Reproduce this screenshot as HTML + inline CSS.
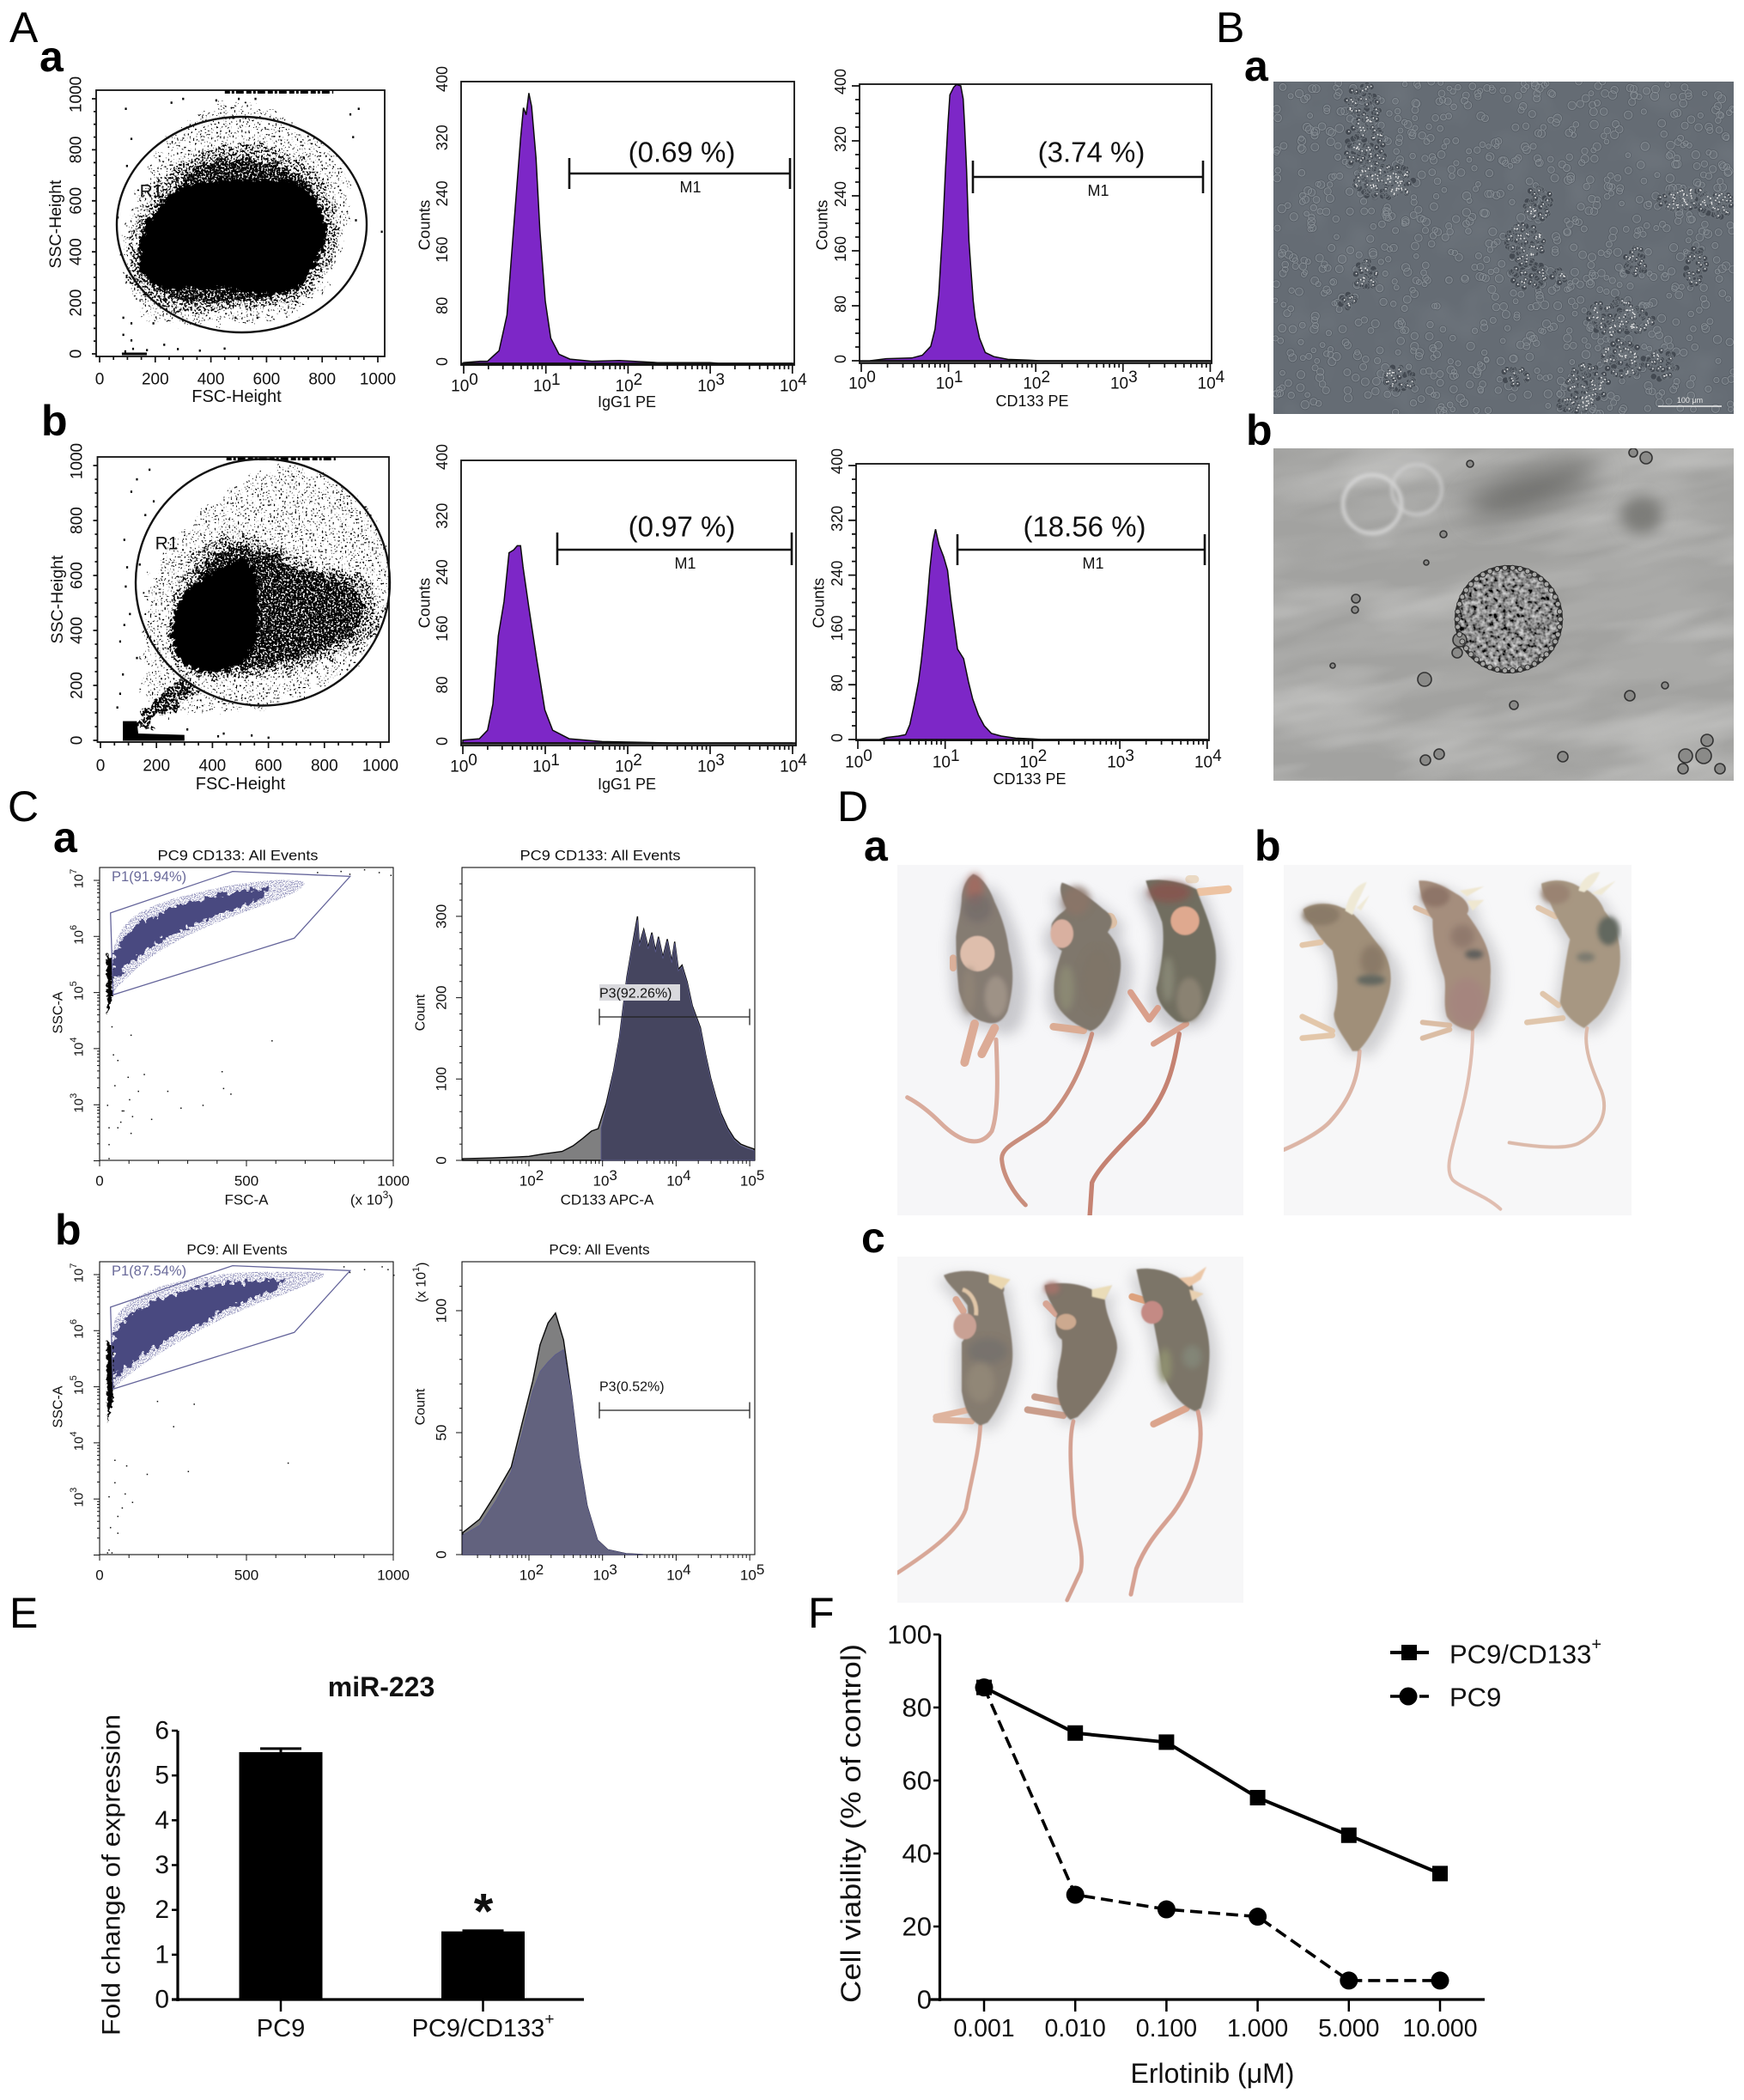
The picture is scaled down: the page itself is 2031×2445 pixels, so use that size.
<!DOCTYPE html>
<html lang="en">
<head>
<meta charset="utf-8">
<title>CD133 PC9 multi-panel figure</title>
<style>
html,body{margin:0;padding:0;background:#fff}
svg{display:block}
text{font-family:"Liberation Sans",Arial,sans-serif;dominant-baseline:central;fill:#111}
text.letter{dominant-baseline:alphabetic;font-size:50px;fill:#000}
text.sub{dominant-baseline:alphabetic;font-size:50px;font-weight:bold;fill:#000}
</style>
</head>
<body>
<svg id="fig" xmlns="http://www.w3.org/2000/svg" width="2031" height="2445" viewBox="0 0 2031 2445">
<defs>
  <filter id="stipDense" x="-.1" y="-.1" width="1.2" height="1.2"><feTurbulence type="fractalNoise" baseFrequency=".09" numOctaves="2" seed="21" result="w"/><feDisplacementMap in="SourceGraphic" in2="w" scale="26" xChannelSelector="R" yChannelSelector="G" result="s"/><feTurbulence type="fractalNoise" baseFrequency=".42" numOctaves="1" seed="3" result="n"/><feColorMatrix in="n" type="matrix" values="0 0 0 0 0 0 0 0 0 0 0 0 0 0 0 14 0 0 0 -5.9" result="m"/><feComposite in="m" in2="s" operator="in"/></filter>
  <filter id="stipMid" x="-.1" y="-.1" width="1.2" height="1.2"><feTurbulence type="fractalNoise" baseFrequency=".09" numOctaves="2" seed="22" result="w"/><feDisplacementMap in="SourceGraphic" in2="w" scale="30" xChannelSelector="R" yChannelSelector="G" result="s"/><feTurbulence type="fractalNoise" baseFrequency=".45" numOctaves="1" seed="8" result="n"/><feColorMatrix in="n" type="matrix" values="0 0 0 0 0 0 0 0 0 0 0 0 0 0 0 14 0 0 0 -7.3" result="m"/><feComposite in="m" in2="s" operator="in"/></filter>
  <filter id="stipSparse" x="-.1" y="-.1" width="1.2" height="1.2"><feTurbulence type="fractalNoise" baseFrequency=".07" numOctaves="2" seed="23" result="w"/><feDisplacementMap in="SourceGraphic" in2="w" scale="34" xChannelSelector="R" yChannelSelector="G" result="s"/><feTurbulence type="fractalNoise" baseFrequency=".48" numOctaves="1" seed="14" result="n"/><feColorMatrix in="n" type="matrix" values="0 0 0 0 0 0 0 0 0 0 0 0 0 0 0 14 0 0 0 -8.6" result="m"/><feComposite in="m" in2="s" operator="in"/></filter>
  <filter id="stipNavy" x="-.05" y="-.05" width="1.1" height="1.1"><feTurbulence type="fractalNoise" baseFrequency=".8" numOctaves="1" seed="5" result="n"/><feColorMatrix in="n" type="matrix" values="0 0 0 0 .29 0 0 0 0 .29 0 0 0 0 .5 14 0 0 0 -7.0" result="m"/><feComposite in="m" in2="SourceGraphic" operator="in"/></filter>
  <filter id="rough" x="-.1" y="-.1" width="1.2" height="1.2"><feTurbulence type="fractalNoise" baseFrequency=".16" numOctaves="2" seed="2" result="n"/><feDisplacementMap in="SourceGraphic" in2="n" scale="16" xChannelSelector="R" yChannelSelector="G"/></filter>
  <filter id="roughFine" x="-.3" y="-.1" width="1.6" height="1.2"><feTurbulence type="fractalNoise" baseFrequency=".3" numOctaves="2" seed="9" result="n"/><feDisplacementMap in="SourceGraphic" in2="n" scale="7" xChannelSelector="R" yChannelSelector="G"/></filter>
  <filter id="blur1"><feGaussianBlur stdDeviation="1"/></filter>
  <filter id="blur2" x="-.3" y="-.3" width="1.6" height="1.6"><feGaussianBlur stdDeviation="2"/></filter>
  <filter id="blur8" x="-.8" y="-.8" width="2.6" height="2.6"><feGaussianBlur stdDeviation="8"/></filter>
  <filter id="blur12" x="-.8" y="-.8" width="2.6" height="2.6"><feGaussianBlur stdDeviation="12"/></filter>
  <filter id="blur16" x="-.8" y="-1.5" width="2.6" height="4"><feGaussianBlur stdDeviation="16"/></filter>
  <filter id="blur24" x="-.4" y="-.2" width="1.8" height="1.4"><feGaussianBlur stdDeviation="22"/></filter>
  <filter id="bandNoise" x="0" y="0" width="1" height="1"><feTurbulence type="fractalNoise" baseFrequency="0.006 0.024" numOctaves="3" seed="11"/><feColorMatrix type="matrix" values="0 0 0 0 .45 0 0 0 0 .45 0 0 0 0 .44 3.4 0 0 0 -1.35"/></filter>
  <filter id="bandLight" x="0" y="0" width="1" height="1"><feTurbulence type="fractalNoise" baseFrequency="0.005 0.02" numOctaves="3" seed="31"/><feColorMatrix type="matrix" values="0 0 0 0 .85 0 0 0 0 .85 0 0 0 0 .84 3 0 0 0 -1.4"/></filter>
  <filter id="fogNoise" x="0" y="0" width="1" height="1"><feTurbulence type="fractalNoise" baseFrequency="0.02" numOctaves="2" seed="4"/><feColorMatrix type="matrix" values="0 0 0 0 .28 0 0 0 0 .31 0 0 0 0 .34 2 0 0 0 -.95"/></filter>
  <filter id="mottle" x="0" y="0" width="1" height="1"><feTurbulence type="fractalNoise" baseFrequency=".2" numOctaves="2" seed="6" result="n"/><feColorMatrix in="n" type="matrix" values="1.2 0 0 0 -.33 1.2 0 0 0 -.33 1.2 0 0 0 -.33 0 0 0 0 1" result="m"/><feComposite in="m" in2="SourceGraphic" operator="in"/></filter>
  <clipPath id="clipBa"><rect x="1483" y="95" width="536" height="387"/></clipPath>
  <clipPath id="clipBb"><rect x="1483" y="522" width="536" height="387"/></clipPath>
  <clipPath id="clipDa"><rect x="0" y="0" width="1209" height="1224"/></clipPath>
  <clipPath id="clipDb"><rect x="0" y="0" width="1215" height="1224"/></clipPath>
  <clipPath id="clipDc"><rect x="0" y="0" width="1209" height="1209"/></clipPath>
  <path id="mouseA1" d="M265 32C295 40 325 85 340 130C370 190 385 250 390 300C410 370 405 440 385 510C370 545 345 560 310 550C260 540 230 500 215 440C210 390 205 330 205 250C210 200 225 160 225 110C230 70 245 45 265 32Z"/>
  <path id="mouseA2" d="M575 62C620 75 680 120 720 155C750 175 760 200 735 235C775 280 790 330 775 400C755 500 715 570 675 580C620 560 565 520 550 470C540 400 560 350 575 300C545 280 530 250 540 205C560 170 590 160 590 150C570 110 565 80 575 62Z"/>
  <path id="mouseA3" d="M868 55C920 45 1000 60 1045 85C1060 130 1090 190 1105 260C1125 330 1105 420 1080 480C1050 545 1010 560 975 545C930 510 905 470 905 430C925 350 935 260 925 200C900 130 880 100 868 55Z"/>
  <path id="mouseB1" d="M68 155C100 130 170 130 205 150C250 160 290 230 340 290C375 340 385 400 360 470C330 560 290 620 260 650L240 650C210 600 175 560 175 520C195 440 190 380 170 300C130 260 110 230 100 210C80 190 70 170 68 155Z"/>
  <path id="mouseB2" d="M472 55C520 50 570 80 610 105C650 130 650 160 640 170C690 240 730 300 722 390C725 470 690 550 660 580C620 570 590 560 570 530C555 480 570 430 560 390C530 300 520 260 520 190C490 150 475 100 472 55Z"/>
  <path id="mouseB3" d="M900 65C950 45 1000 55 1030 75C1080 90 1110 130 1120 160C1170 220 1185 300 1170 380C1150 450 1120 510 1090 535L1050 570C1010 550 980 520 965 480C975 400 985 330 1000 260C970 210 950 180 930 130C915 110 900 90 900 65Z"/>
  <path id="mouseC1" d="M162 65C210 45 280 45 320 65C370 80 380 110 370 125C390 230 410 310 400 380C385 460 350 540 315 580L290 590C250 570 235 530 225 470C225 400 225 340 225 300C250 270 250 230 245 170C210 120 175 100 162 65Z"/>
  <path id="mouseC2" d="M515 100C570 85 640 95 680 115C700 130 720 120 750 100L725 150C730 220 770 270 768 320C760 400 700 490 630 560L605 570C575 550 550 480 560 420C560 380 580 340 575 290C545 270 550 220 560 200C540 170 515 130 515 100Z"/>
  <path id="mouseC3" d="M835 45C880 35 950 50 985 75L1030 100L1040 140C1075 210 1095 290 1090 360C1085 430 1075 490 1060 530L1040 540C990 520 950 470 925 400C915 330 905 280 895 230C860 170 850 110 835 45Z"/>
</defs>

<rect width="2031" height="2445" fill="#fff"/>

<text class="letter" x="11" y="49">A</text>
<text class="letter" x="1416" y="49">B</text>
<text class="letter" x="9" y="956">C</text>
<text class="letter" x="975" y="956">D</text>
<text class="letter" x="11" y="1895">E</text>
<text class="letter" x="941" y="1895">F</text>
<text class="sub" x="46" y="83">a</text>
<text class="sub" x="48" y="507">b</text>
<text class="sub" x="1449" y="94">a</text>
<text class="sub" x="1451" y="518">b</text>
<text class="sub" x="62" y="992">a</text>
<text class="sub" x="64" y="1449">b</text>
<text class="sub" x="1006" y="1002">a</text>
<text class="sub" x="1461" y="1002">b</text>
<text class="sub" x="1003" y="1458">c</text>

<g id="panelA"></g>
<g id="panelC"></g>

<g>
  <ellipse cx="281.5" cy="261.5" rx="145.5" ry="125.5" fill="none" stroke="#111" stroke-width="2.4"/>
  <text x="176" y="223" font-size="21" text-anchor="middle">R1</text>
  <ellipse cx="306" cy="678" rx="148" ry="143.5" fill="none" stroke="#111" stroke-width="2.4"/>
  <text x="194" y="633" font-size="21" text-anchor="middle">R1</text>

  <text x="794" y="177" font-size="33" text-anchor="middle">(0.69 %)</text>
  <path d="M663 184V220M663 202H920M920 184V220" fill="none" stroke="#111" stroke-width="2.6"/>
  <text x="804" y="218" font-size="18" text-anchor="middle">M1</text>

  <text x="1271" y="177" font-size="33" text-anchor="middle">(3.74 %)</text>
  <path d="M1133 187V225M1133 206H1401M1401 187V225" fill="none" stroke="#111" stroke-width="2.6"/>
  <text x="1279" y="222" font-size="18" text-anchor="middle">M1</text>

  <text x="794" y="613" font-size="33" text-anchor="middle">(0.97 %)</text>
  <path d="M649 620V658M649 640H922M922 620V658" fill="none" stroke="#111" stroke-width="2.6"/>
  <text x="798" y="656" font-size="18" text-anchor="middle">M1</text>

  <text x="1263" y="613" font-size="33" text-anchor="middle">(18.56 %)</text>
  <path d="M1115 622V658M1115 640H1403M1403 622V658" fill="none" stroke="#111" stroke-width="2.6"/>
  <text x="1273" y="656" font-size="18" text-anchor="middle">M1</text>
</g>

<g font-size="17">
  <text x="277" y="996" font-size="17" text-anchor="middle" textLength="187" lengthAdjust="spacingAndGlyphs">PC9  CD133: All Events</text>
  <text x="699" y="996" font-size="17" text-anchor="middle" textLength="187" lengthAdjust="spacingAndGlyphs">PC9  CD133: All Events</text>
  <text x="276" y="1455" font-size="17" text-anchor="middle">PC9: All Events</text>
  <text x="698" y="1455" font-size="17" text-anchor="middle">PC9: All Events</text>
  <text x="287" y="1397" font-size="17" text-anchor="middle">FSC-A</text>
  <text x="458" y="1397" font-size="17" text-anchor="end">(x 10<tspan dy="-6" font-size="12">3</tspan><tspan dy="6">)</tspan></text>
  <text x="707" y="1397" font-size="17" text-anchor="middle">CD133 APC-A</text>
  <text transform="translate(68,1179) rotate(-90)" font-size="16" text-anchor="middle">SSC-A</text>
  <text transform="translate(68,1638) rotate(-90)" font-size="16" text-anchor="middle">SSC-A</text>
  <text transform="translate(490,1179) rotate(-90)" font-size="16" text-anchor="middle">Count</text>
  <text transform="translate(490,1638) rotate(-90)" font-size="16" text-anchor="middle">Count</text>
  <text transform="translate(491,1493) rotate(-90)" font-size="16" text-anchor="middle">(x 10<tspan dy="-6" font-size="11">1</tspan><tspan dy="6">)</tspan></text>
</g>

<g id="panelB">
  <g clip-path="url(#clipBa)">
    <rect x="1483" y="95" width="536" height="387" fill="#656c74"/>
    <rect x="1483" y="95" width="536" height="387" filter="url(#fogNoise)" opacity=".22"/>
    <g id="cellsA"></g>
    <line x1="1931" x2="2005" y1="473" y2="473" stroke="#eee" stroke-width="1.6"/>
    <text x="1968" y="466" font-size="9" text-anchor="middle" style="fill:#e6e6e6">100 μm</text>
  </g>
  <g clip-path="url(#clipBb)">
    <rect x="1483" y="522" width="536" height="387" fill="#a2a2a0"/>
    <rect x="1360" y="440" width="780" height="560" filter="url(#bandNoise)" transform="rotate(-10 1750 715)" opacity=".5"/>
    <rect x="1360" y="440" width="780" height="560" filter="url(#bandLight)" transform="rotate(-10 1750 715)" opacity=".3"/>
    <ellipse cx="1785" cy="570" rx="80" ry="22" transform="rotate(-18 1785 570)" fill="#6f6f6d" filter="url(#blur16)"/>
    <ellipse cx="1912" cy="600" rx="24" ry="22" fill="#7d7d79" filter="url(#blur8)"/>
    <circle cx="1598" cy="587" r="34" fill="none" stroke="#dcdcdc" stroke-width="3.5" filter="url(#blur2)"/>
    <circle cx="1650" cy="570" r="29" fill="none" stroke="#d0d0d0" stroke-width="3" filter="url(#blur2)"/>
    <circle cx="1757" cy="721" r="62" fill="#333" stroke="#2a2a2a" stroke-width="2"/>
    <circle cx="1757" cy="721" r="59" fill="#000" filter="url(#mottle)"/>
    <g id="cellsB"></g>
  </g>
</g>

<g>
  <g transform="translate(1045,1007) scale(.33333)" clip-path="url(#clipDa)">
    <rect width="1209" height="1224" fill="#f6f6f8"/>
    <g filter="url(#blur24)" fill="#a4a4aa" opacity=".55"><use href="#mouseA1" x="-20" y="20"/><use href="#mouseA1" x="50" y="40"/><use href="#mouseA2" x="-25" y="30"/><use href="#mouseA2" x="40" y="25"/><use href="#mouseA3" x="-30" y="30"/><use href="#mouseA3" x="30" y="20"/></g>
    <g fill="none" stroke-linecap="round" filter="url(#blur1)">
      <path d="M345 610C350 720 355 860 330 930C290 990 220 970 150 900C110 860 70 830 35 812" stroke="#d9ab9c" stroke-width="15"/>
      <path d="M680 590C650 700 600 810 520 895C440 960 360 980 365 1030C370 1090 410 1150 448 1188" stroke="#c98e7d" stroke-width="15"/>
      <path d="M985 590C965 700 950 790 860 900C780 980 700 1060 680 1110L672 1230" stroke="#c58272" stroke-width="16"/>
      <path d="M270 555L235 690M340 570L295 660" stroke="#dcab96" stroke-width="30"/>
      <path d="M650 578L545 565" stroke="#dbac94" stroke-width="26"/>
      <path d="M1010 555L895 625" stroke="#d89f8b" stroke-width="20"/>
      <path d="M910 500L880 540L815 445" stroke="#d99f8b" stroke-width="22" stroke-linejoin="round"/>
      <path d="M1055 95L1155 85" stroke="#edc3a2" stroke-width="28"/>
      <path d="M1020 50L1040 50" stroke="#ead9c4" stroke-width="28"/>
      <path d="M740 190L745 200" stroke="#ddc0a6" stroke-width="46"/>
      <path d="M195 325L195 360" stroke="#dbb09a" stroke-width="24"/>
    </g>
    <g filter="url(#blur2)">
      <use href="#mouseA1" fill="#857b72"/>
      <ellipse cx="270" cy="85" rx="30" ry="55" fill="#a4695f" opacity=".85" filter="url(#blur12)"/>
      <ellipse cx="280" cy="150" rx="50" ry="50" fill="#726a69" opacity=".7" filter="url(#blur12)"/>
      <ellipse cx="280" cy="310" rx="60" ry="62" fill="#deBeac"/>
      <ellipse cx="345" cy="460" rx="40" ry="72" fill="#9e9286" filter="url(#blur8)"/>
      <ellipse cx="250" cy="440" rx="22" ry="80" fill="#8f8374" filter="url(#blur12)"/>
      <use href="#mouseA2" fill="#7f776c"/>
      <ellipse cx="625" cy="125" rx="48" ry="50" fill="#8b7467" opacity=".9" filter="url(#blur12)"/>
      <ellipse cx="575" cy="240" rx="40" ry="50" fill="#d9b0a0"/>
      <ellipse cx="590" cy="430" rx="28" ry="80" fill="#8d8b74" opacity=".9" filter="url(#blur12)"/>
      <ellipse cx="700" cy="400" rx="60" ry="110" fill="#7f7568" opacity=".8" filter="url(#blur12)"/>
      <use href="#mouseA3" fill="#716e60"/>
      <ellipse cx="950" cy="95" rx="75" ry="36" fill="#87574f" opacity=".9" filter="url(#blur12)"/>
      <ellipse cx="1005" cy="195" rx="50" ry="50" fill="#dfa98f"/>
      <ellipse cx="945" cy="400" rx="22" ry="80" fill="#8d8d7a" opacity=".8" filter="url(#blur12)"/>
      <ellipse cx="1020" cy="470" rx="45" ry="76" fill="#8a8272" filter="url(#blur8)"/>
    </g>
  </g>
  <g transform="translate(1495,1007) scale(.33333)" clip-path="url(#clipDb)">
    <rect width="1215" height="1224" fill="#f7f7f8"/>
    <g filter="url(#blur24)" fill="#a8a8ac" opacity=".5"><use href="#mouseB1" x="40" y="20"/><use href="#mouseB2" x="35" y="20"/><use href="#mouseB3" x="30" y="20"/><use href="#mouseB1" x="-15" y="15"/><use href="#mouseB2" x="-15" y="15"/><use href="#mouseB3" x="-15" y="15"/></g>
    <g fill="none" stroke-linecap="round" filter="url(#blur1)">
      <path d="M265 650C260 720 250 800 160 898C130 930 60 970 0 995" stroke="#dcb5a6" stroke-width="14"/>
      <path d="M660 580C660 680 640 800 610 900C590 990 560 1060 590 1100C620 1130 700 1150 757 1202" stroke="#e0bdb0" stroke-width="12"/>
      <path d="M1060 570C1045 640 1080 720 1110 790C1135 860 1110 930 1029 973C980 995 880 985 788 970" stroke="#dcbaaa" stroke-width="12"/>
      <path d="M170 580L65 530M170 595L65 605M130 270L65 280" stroke="#e3c7aa" stroke-width="20"/>
      <path d="M580 560L485 550M580 575L485 605M520 175L460 150" stroke="#dbbda4" stroke-width="18"/>
      <path d="M975 535L850 550M960 490L905 450M950 180L890 150" stroke="#e0c6ac" stroke-width="20"/>
    </g>
    <g filter="url(#blur2)">
      <use href="#mouseB1" fill="#a08f79"/>
      <ellipse cx="130" cy="175" rx="65" ry="36" fill="#8a7a68" filter="url(#blur8)"/>
      <ellipse cx="310" cy="335" rx="42" ry="55" fill="#857464" opacity=".8" filter="url(#blur12)"/>
      <ellipse cx="305" cy="402" rx="50" ry="18" fill="#636760" filter="url(#blur8)"/>
      <path d="M215 160C225 110 250 70 290 60C270 110 250 140 240 175ZM255 150L300 105L270 160Z" fill="#efe9d5"/>
      <use href="#mouseB2" fill="#a58e7d"/>
      <ellipse cx="640" cy="480" rx="65" ry="85" fill="#a5857f" opacity=".9" filter="url(#blur12)"/>
      <ellipse cx="530" cy="110" rx="50" ry="36" fill="#8e7468" filter="url(#blur8)"/>
      <ellipse cx="625" cy="250" rx="42" ry="40" fill="#8b7569" opacity=".8" filter="url(#blur12)"/>
      <ellipse cx="665" cy="312" rx="32" ry="16" fill="#5f5f5b" filter="url(#blur8)"/>
      <path d="M615 90L700 75L640 110ZM640 125L700 122L660 160Z" fill="#efe7d0"/>
      <use href="#mouseB3" fill="#a79782"/>
      <ellipse cx="950" cy="100" rx="50" ry="36" fill="#9a8372" filter="url(#blur8)"/>
      <ellipse cx="1135" cy="230" rx="38" ry="50" fill="#62675f" filter="url(#blur8)"/>
      <ellipse cx="1055" cy="322" rx="32" ry="16" fill="#7c7a70" filter="url(#blur8)"/>
      <path d="M1030 90C1040 50 1070 25 1105 25C1090 60 1070 80 1050 95ZM1075 100L1160 55L1110 105Z" fill="#efe9d5"/>
    </g>
  </g>
  <g transform="translate(1045,1463) scale(.33333)" clip-path="url(#clipDc)">
    <rect width="1209" height="1209" fill="#f7f7f8"/>
    <g filter="url(#blur24)" fill="#aaaaae" opacity=".5"><use href="#mouseC1" x="25" y="20"/><use href="#mouseC2" x="25" y="20"/><use href="#mouseC3" x="30" y="20"/><use href="#mouseC1" x="-20" y="15"/><use href="#mouseC2" x="-20" y="15"/><use href="#mouseC3" x="-20" y="15"/></g>
    <g fill="none" stroke-linecap="round" filter="url(#blur1)">
      <path d="M290 590C285 690 255 790 240 880C215 960 100 1040 0 1105" stroke="#d8a797" stroke-width="14"/>
      <path d="M615 575C595 650 610 800 618 900C625 960 655 1040 640 1100L593 1200" stroke="#d4a192" stroke-width="14"/>
      <path d="M1050 540C1075 640 1050 780 960 900C920 950 870 1000 835 1090L816 1180" stroke="#d6a192" stroke-width="15"/>
      <path d="M250 535L135 560M260 575L135 570" stroke="#dfb49e" stroke-width="22"/>
      <path d="M585 510L480 490M580 555L455 535" stroke="#c99d8b" stroke-width="24"/>
      <path d="M1010 530L895 585" stroke="#dba48c" stroke-width="24"/>
      <path d="M205 150L230 190" stroke="#d9a894" stroke-width="24"/>
      <path d="M520 165L555 200" stroke="#d6a594" stroke-width="24"/>
      <path d="M820 140L870 155" stroke="#dda27e" stroke-width="24"/>
    </g>
    <g filter="url(#blur2)">
      <use href="#mouseC1" fill="#857b6f"/>
      <ellipse cx="315" cy="330" rx="70" ry="45" fill="#74716d" opacity=".8" filter="url(#blur12)"/>
      <ellipse cx="290" cy="440" rx="50" ry="70" fill="#948a79" opacity=".8" filter="url(#blur12)"/>
      <ellipse cx="236" cy="243" rx="40" ry="46" fill="#c9a194"/>
      <path d="M320 60L395 80L365 115L320 90Z" fill="#ead7b0"/>
      <path d="M228 115C260 125 280 165 275 205" fill="none" stroke="#e0c6a8" stroke-width="14"/>
      <use href="#mouseC2" fill="#7f7468"/>
      <ellipse cx="590" cy="228" rx="35" ry="28" fill="#cca98f"/>
      <path d="M680 115L750 100L725 150L680 140Z" fill="#eadcb8"/>
      <ellipse cx="540" cy="110" rx="28" ry="22" fill="#a4736a" opacity=".9" filter="url(#blur8)"/>
      <use href="#mouseC3" fill="#7c7568"/>
      <ellipse cx="890" cy="195" rx="38" ry="40" fill="#c48a84"/>
      <ellipse cx="935" cy="380" rx="22" ry="60" fill="#8f9070" filter="url(#blur12)"/>
      <ellipse cx="1030" cy="350" rx="34" ry="40" fill="#858a7c" opacity=".8" filter="url(#blur12)"/>
      <path d="M985 75L1030 70L1080 35L1060 80L1020 105Z" fill="#ecc8a8"/>
      <path d="M1020 115L1070 130L1030 155Z" fill="#e8d0b0"/>
    </g>
  </g>
</g>

<g id="panelE"></g>
<g id="panelF"></g>
</svg>

<script>
// ---------- Panel A histograms: decade position (log10) and counts ----------
const iggTopDecade=[0,.2,.29,.43,.527,.593,.66,.693,.727,.76,.793,.827,.88,.927,.993,1.06,1.16,1.293,1.56,1.893,2.36,3.0,3.1,4];
const iggTopCounts=[1,3,3,18,69,171,273,322,365,355,386,367,294,191,89,36,13,6,3,4,1,1,0,0];
const cdTopDecade=[.1,.286,.58,.7,.796,.845,.888,.911,.934,.967,.993,1.016,1.059,1.092,1.141,1.168,1.184,1.207,1.234,1.257,1.283,1.306,1.355,1.421,1.52,1.68,1.91,2.05,4];
const cdTopCounts=[0,3,4,8,21,46,96,146,192,281,344,387,398,402,400,381,344,279,175,133,87,62,33,12,6,2,1,0,0];
const iggBotDecade=[0,.2,.3,.365,.43,.5,.56,.617,.66,.7,.73,.8,.895,.995,1.09,1.29,1.69,2.55,4];
const iggBotCounts=[4,6,18,55,152,201,270,274,280,280,250,193,120,47,18,6,2,0,0];
const cdBotDecade=[.25,.33,.465,.547,.596,.645,.694,.727,.76,.792,.825,.858,.89,.93,.982,1.028,1.064,1.103,1.142,1.211,1.267,1.316,1.381,1.447,1.529,1.643,1.807,2.0,2.1,4];
const cdBotCounts=[0,3,5,7,22,51,84,115,155,197,249,288,307,284,267,247,205,168,132,118,84,59,36,20,9,5,2,1,0,0];
const histCountTicks=[0,80,160,240,320,400];
const histDecadeTicks=[0,1,2,3,4];
const fscTicks=[0,200,400,600,800,1000];
const sscTicks=[0,200,400,600,800,1000];

// ---------- Panel A scatter density regions and individual events ----------
const aTopCoreFsc=[134,173,252,311,429,587,744,803,823,764,705,587,429,252,154];
const aTopCoreSsc=[400,535,624,669,680,686,669,546,456,322,243,221,266,243,288];
const aTopMidFsc=[94,154,291,429,665,823,862,823,705,528,232,114];
const aTopMidSsc=[378,580,759,826,804,692,490,322,198,176,154,266];
const aTopHaloFsc=[232,331,429,520,665,780,902,882,700,429,114,75];
const aTopHaloSsc=[829,905,985,990,938,830,714,378,130,120,120,490];
const aTopEventFsc=[94,931,114,901,911,98,65,921,1014,85,114,85,114,360,449,232,193,281,567,488,419,500,560,300,258,120,170,92];
const aTopEventSsc=[961,961,843,939,850,737,535,524,479,142,120,75,53,13,21,36,120,19,142,142,994,1000,1000,1000,985,20,15,10];
const bBotCoreFsc=[247,266,325,423,521,560,560,560,521,423,305];
const bBotCoreSsc=[359,484,568,630,672,609,464,359,286,245,255];
const bBotMidFsc=[227,266,384,560,736,951,1010,971,775,560,344];
const bBotMidSsc=[307,568,734,745,630,609,464,359,276,224,224];
const bBotHaloFsc=[149,188,579,814,1020,1020,736,423,168];
const bBotHaloSsc=[359,672,1015,984,776,359,151,99,99];
const bBotLowFsc=[80,80,130,135,300,300,135];
const bBotLowSsc=[0,70,70,25,20,5,0];
const bBotBandFsc=[100,300,345,140];
const bBotBandSsc=[60,235,190,30];
const bBotEventFsc=[175,110,85,90,105,130,80,70,60,310,420,440,540,600,95,140,160,190,130,70,85];
const bBotEventSsc=[985,905,730,560,460,300,240,170,120,40,15,25,18,10,630,640,820,870,950,360,420];

// ---------- Panel C histograms: log10 signal and count ----------
const cAllLog=[1.1,1.5,1.8,2.0,2.2,2.45,2.6,2.73,2.85,2.94,3.05,3.15,3.23,3.33,3.4,3.475,3.5,3.56,3.62,3.67,3.72,3.76,3.82,3.88,3.94,3.98,4.03,4.08,4.15,4.22,4.33,4.4,4.47,4.54,4.61,4.7,4.79,4.88,4.96,5.06];
const cAllCount=[2,3,4,5,8,11,18,27,36,39,70,110,151,225,262,300,265,284,262,280,258,275,250,272,245,269,235,240,219,190,163,130,101,78,58,40,27,20,17,14];
const cGatedLog=[2.98,3.05,3.15,3.23,3.33,3.4,3.475,3.5,3.56,3.62,3.67,3.72,3.76,3.82,3.88,3.94,3.98,4.03,4.08,4.15,4.22,4.33,4.4,4.47,4.54,4.61,4.7,4.79,4.88,4.96,5.06];
const cGatedCount=[40,66,108,149,223,260,296,263,282,260,278,256,273,248,270,243,267,233,238,217,188,161,128,99,76,56,38,25,18,15,12];
const dAllLog=[1.1,1.33,1.55,1.76,1.9,2.05,2.15,2.26,2.36,2.47,2.58,2.68,2.79,2.93,3.07,3.32,3.55];
const dAllCount=[9,14.5,25,36,53,71,86,95,99,88,65,40,20,6,2,.4,0];
const dGatedLog=[1.1,1.33,1.55,1.76,1.9,2.05,2.15,2.26,2.36,2.47,2.58,2.68,2.79,2.93,3.07,3.32,3.55];
const dGatedCount=[8,12,22,34,49,67,75,79,82,84,65,40,20,6,2,.4,0];
const cCountTicksA=[0,100,200,300];
const cCountTicksB=[0,50,100];
const cLogTicks=[2,3,4,5];
const cFscTicks=[0,500,1000];
const cSscTicks=[3,4,5,6,7];

// ---------- Panel C scatter regions and events ----------
const caBandFsc=[41,103,192,316,423,547,590,547,423,281,156,67,41];
const caBandSsc=[5.64,6.13,6.40,6.62,6.76,6.85,6.9,6.62,6.44,6.13,5.77,5.37,5.14];
const caHaloFsc=[35,90,200,340,480,620,720,640,470,300,160,60,40];
const caHaloSsc=[5.7,6.3,6.6,6.8,6.95,7.02,6.98,6.7,6.4,6.03,5.6,5.1,4.95];
const cbBandFsc=[41,85,192,334,458,600,640,600,458,334,192,85,41];
const cbBandSsc=[5.83,6.24,6.55,6.78,6.87,6.91,6.92,6.73,6.46,6.10,5.74,5.34,5.07];
const cbHaloFsc=[35,90,200,340,480,640,800,680,470,300,160,60,40];
const cbHaloSsc=[6.1,6.5,6.8,6.95,7.05,7.05,7.05,6.75,6.35,5.9,5.45,5.05,4.85];
const caBlackFsc=[24,44,42,26];
const caBlackSsc=[5.7,5.6,4.9,4.6];
const cbBlackFsc=[24,46,46,26];
const cbBlackSsc=[5.85,5.7,4.75,4.35];
const caEventFsc=[585,415,420,445,150,230,275,350,80,110,40,60,50,95,130,175,30,30,70,105,740,820,850,950,990,900,30,25,45,105,60,75,100];
const caEventSsc=[4.15,3.6,3.3,3.2,3.55,3.25,2.95,3.0,2.9,2.8,4.4,3.8,3.35,3.5,3.25,2.75,2.3,2.6,2.7,2.5,7.15,7.17,7.12,7.15,7.1,7.2,2.05,3.0,3.9,4.25,2.6,2.9,3.1];
const cbEventFsc=[195,320,250,640,300,160,50,90,110,30,60,35,75,85,60,30,850,900,960,980,1000,830,40,25,50];
const cbEventSsc=[4.75,4.7,4.3,3.65,3.5,3.45,3.7,3.6,2.95,3.05,2.7,2.5,2.85,3.1,2.4,2.1,7.05,7.1,7.15,7.1,7.0,7.15,2.05,2.05,3.3];
const cGatePolyFsc=[37,453,853,663,46];
const cGatePolySsc=[6.42,7.16,7.07,5.97,4.96];

// ---------- Panel E ----------
const expressionCategories=['PC9','PC9/CD133'];
const expressionValues=[5.52,1.52];
const expressionErrors=[.08,.015];
const expressionTicks=[0,1,2,3,4,5,6];

// ---------- Panel F ----------
const doseLabels=['0.001','0.010','0.100','1.000','5.000','10.000'];
const viabilityCd133=[85.5,73,70.5,55.3,45,34.5];
const viabilityPc9=[85.5,28.7,24.7,22.7,5.2,5.2];
const viabilityTicks=[0,20,40,60,80,100];

const NS='http://www.w3.org/2000/svg';
function make(parent,tag,props,content){
  const el=document.createElementNS(NS,tag);
  for(const k in props)el.setAttribute(k,props[k]);
  if(content!==undefined)el.textContent=content;
  parent.appendChild(el);
  return el;
}
function polyD(xs,ys,X,Y){return xs.map((v,i)=>(i?'L':'M')+X(v).toFixed(1)+' '+Y(ys[i]).toFixed(1)).join('')+'Z';}
function smoothD(xs,ys,X,Y){
  const n=xs.length;
  const px=xs.map(X), py=ys.map(Y);
  let d='M'+((px[n-1]+px[0])/2).toFixed(1)+' '+((py[n-1]+py[0])/2).toFixed(1);
  for(let i=0;i<n;i++){
    const j=(i+1)%n;
    d+='Q'+px[i].toFixed(1)+' '+py[i].toFixed(1)+' '+((px[i]+px[j])/2).toFixed(1)+' '+((py[i]+py[j])/2).toFixed(1);
  }
  return d+'Z';
}
function powerLabel(parent,x,y,exp,size){
  const t=make(parent,'text',{x:x,y:y,'font-size':size,'text-anchor':'middle'});
  t.appendChild(document.createTextNode('10'));
  make(t,'tspan',{dy:-size*.42},exp);
  return t;
}

function drawHist(parent,key,xs,cs,c){
  const X=d=>c.x0+d*c.dec, Y=n=>c.y0-n*(c.y0-c.y400)/400;
  const g=make(parent,'g',{});
  
  
  const frame=make(g,'rect',{x:c.l,y:c.t,width:c.r-c.l,height:c.b-c.t,fill:'#fff',stroke:'#111','stroke-width':1.8});
  
  
  let d='M'+X(xs[0]).toFixed(1)+' '+Y(0).toFixed(1);
  xs.forEach((v,i)=>{d+='L'+Math.min(X(v),c.r).toFixed(1)+' '+Math.max(Y(cs[i]),c.t).toFixed(1);});
  d+='L'+Math.min(X(xs[xs.length-1]),c.r).toFixed(1)+' '+Y(0).toFixed(1)+'Z';
  const area=make(g,'path',{d:d,fill:'#7d27c7',stroke:'#0d0d0d','stroke-width':1.5,'stroke-linejoin':'miter'});
  
  
  const base=make(g,'line',{x1:c.l,x2:c.r,y1:Y(0)+.5,y2:Y(0)+.5,stroke:'#111','stroke-width':2.6});
  
  
  let tick='';
  histDecadeTicks.forEach(dec=>{
    tick+='M'+X(dec)+' '+c.b+'v10';
    if(dec<4)for(let m=2;m<10;m++)tick+='M'+(X(dec)+Math.log10(m)*c.dec).toFixed(1)+' '+c.b+'v5';
  });
  const xt=make(g,'path',{d:tick,stroke:'#111','stroke-width':1.7,fill:'none'});
  
  
  histDecadeTicks.forEach(dec=>{
    const t=powerLabel(g,X(dec)+1,c.xl,dec,19);
    
    
  });
  if(c.yt){
    let yd='';
    for(let n=0;n<=400;n+=20)yd+='M'+c.l+' '+Y(n).toFixed(1)+'h'+(n%80?-5:-9);
    const yp=make(g,'path',{d:yd,stroke:'#111','stroke-width':1.8,fill:'none'});
    
    
  }
  histCountTicks.forEach(n=>{
    const t=make(g,'text',{transform:'translate('+c.yl+','+(Y(n)+(n==400?-5:-2))+') rotate(-90)','font-size':18,'text-anchor':'middle'},n);
    
    
  });
  const xtitle=make(g,'text',{x:c.xtx,y:c.xty,'font-size':18,'text-anchor':'middle'},c.xtitle);
  
  
  const ytitle=make(g,'text',{transform:'translate('+c.ctx+','+c.cty+') rotate(-90)','font-size':18.5,'text-anchor':'middle'},'Counts');
  
  
}

function drawScatter(parent,key,s,c){
  const X=v=>c.x0+v*(c.x1-c.x0)/1000, Y=v=>c.y0-v*(c.y0-c.y1)/1000;
  const g=make(parent,'g',{});
  
  
  const clipId=key+'-clip';
  const defs=make(g,'defs',{});
  const cp=make(defs,'clipPath',{id:clipId});
  make(cp,'rect',{x:c.l,y:c.t,width:c.r-c.l,height:c.b-c.t});
  const inner=make(g,'g',{'clip-path':'url(#'+clipId+')'});
  if(s.haloF){
    const h=make(inner,'path',{d:smoothD(s.haloF,s.haloS,X,Y),fill:'#000',filter:'url(#stipSparse)'});
    
    
  }
  const m=make(inner,'path',{d:smoothD(s.midF,s.midS,X,Y),fill:'#000',filter:'url(#stipMid)'});
  
  
  const m2=make(inner,'path',{d:smoothD(s.midF,s.midS,X,Y),fill:'#000',filter:'url(#stipDense)',transform:'translate('+((X(s.coreCx)))*.14+','+(Y(s.coreCy))*.14+') scale(.86)'});
  
  
  const k=make(inner,'path',{d:smoothD(s.coreF,s.coreS,X,Y),fill:'#000',filter:'url(#rough)'});
  
  
  if(s.bandF){
    const bd=make(inner,'path',{d:polyD(s.bandF,s.bandS,X,Y),fill:'#000',filter:'url(#stipDense)'});
    
    
  }
  if(s.lowF){
    const lo=make(inner,'path',{d:polyD(s.lowF,s.lowS,X,Y),fill:'#000'});
    
    
  }
  s.evF.forEach((v,i)=>{
    const p=make(inner,'rect',{x:X(v)-1,y:Y(s.evS[i])-1.2,width:2.2,height:2.6,fill:'#000'});
    
    
  });
  const topEdge=make(inner,'path',{d:'M'+X(450)+' '+(c.t+2)+'H'+X(840),stroke:'#000','stroke-width':4,'stroke-dasharray':'6 2 3 2 9 3'});
  
  
  const lowEdge=make(inner,'path',{d:'M'+X(80)+' '+(c.b-3)+'H'+X(c.lowEnd),stroke:'#000','stroke-width':3});
  
  
  const frame=make(g,'rect',{x:c.l,y:c.t,width:c.r-c.l,height:c.b-c.t,fill:'none',stroke:'#111','stroke-width':1.8});
  
  
  let xd='',yd='';
  for(let v=0;v<=1000;v+=50){xd+='M'+X(v).toFixed(1)+' '+c.b+'v'+(v%200?4:7);yd+='M'+c.l+' '+Y(v).toFixed(1)+'h'+(v%200?-3:-5);}
  const xtk=make(g,'path',{d:xd,stroke:'#111','stroke-width':1.7,fill:'none'});
  
  
  const ytk=make(g,'path',{d:yd,stroke:'#111','stroke-width':1.8,fill:'none'});
  
  
  fscTicks.forEach(v=>{
    const t=make(g,'text',{x:X(v),y:c.xl,'font-size':19,'text-anchor':'middle'},v);
    
    
  });
  sscTicks.forEach(v=>{
    const t=make(g,'text',{transform:'translate('+c.yl+','+(Y(v)-(v==1000?5:0))+') rotate(-90)','font-size':19,'text-anchor':'middle'},v);
    
    
  });
  const xt=make(g,'text',{x:c.xtx,y:c.xty,'font-size':20,'text-anchor':'middle'},'FSC-Height');
  
  
  const yt=make(g,'text',{transform:'translate('+c.ytx+','+c.yty+') rotate(-90)','font-size':19.5,'text-anchor':'middle'},'SSC-Height');
  
  
}

const A=document.getElementById('panelA');
drawScatter(A,'a-top',{coreF:aTopCoreFsc,coreS:aTopCoreSsc,midF:aTopMidFsc,midS:aTopMidSsc,haloF:aTopHaloFsc,haloS:aTopHaloSsc,evF:aTopEventFsc,evS:aTopEventSsc,coreCx:480,coreCy:440},
  {l:112,r:448,t:105,b:415,x0:116,x1:440,y0:412,y1:115,xl:442,yl:89,xtx:275.5,xty:462,ytx:65,yty:261,lowEnd:170});
drawScatter(A,'a-bottom',{coreF:bBotCoreFsc,coreS:bBotCoreSsc,midF:bBotMidFsc,midS:bBotMidSsc,haloF:bBotHaloFsc,haloS:bBotHaloSsc,bandF:bBotBandFsc,bandS:bBotBandSsc,lowF:bBotLowFsc,lowS:bBotLowSsc,evF:bBotEventFsc,evS:bBotEventSsc,coreCx:560,coreCy:480},
  {l:113.5,r:453,t:532,b:864,x0:117,x1:443,y0:862,y1:542,xl:892,yl:90,xtx:280,xty:913,ytx:67,yty:698,lowEnd:300});
drawHist(A,'a-top-igg1',iggTopDecade,iggTopCounts,{l:537,r:925,t:95,b:425,x0:540,dec:95.7,y0:423,y400:97,xl:450,yl:515,xtx:730,xty:468,ctx:494,cty:262,xtitle:'IgG1 PE',yt:false});
drawHist(A,'a-top-cd133',cdTopDecade,cdTopCounts,{l:1001,r:1411,t:98,b:423,x0:1003,dec:101.6,y0:420,y400:100,xl:447,yl:979,xtx:1202,xty:467,ctx:957,cty:262,xtitle:'CD133 PE',yt:true});
drawHist(A,'a-bottom-igg1',iggBotDecade,iggBotCounts,{l:537,r:927,t:536,b:868,x0:539,dec:96,y0:865,y400:537,xl:893,yl:515,xtx:730,xty:913,ctx:494,cty:702,xtitle:'IgG1 PE',yt:false});
drawHist(A,'a-bottom-cd133',cdBotDecade,cdBotCounts,{l:997,r:1408,t:540,b:862,x0:999,dec:101.7,y0:861,y400:542,xl:888,yl:975,xtx:1199,xty:907,ctx:953,cty:702,xtitle:'CD133 PE',yt:true});

function drawCScatter(parent,key,s,c){
  const X=v=>116+v*.342, Y=l=>c.y7+(7-l)*65.3;
  const g=make(parent,'g',{});
  
  
  const frame=make(g,'rect',{x:116,y:c.t,width:342,height:341,fill:'#fff',stroke:'#111','stroke-width':1.1});
  
  
  const halo=make(g,'path',{d:smoothD(s.haloF,s.haloS,X,Y),fill:'#000',filter:'url(#stipNavy)'});
  
  
  const band=make(g,'path',{d:smoothD(s.bandF,s.bandS,X,Y),fill:'#4a4a80',filter:'url(#rough)'});
  
  
  const black=make(g,'path',{d:polyD(s.blackF,s.blackS,X,Y),fill:'#000',filter:'url(#roughFine)'});
  
  
  s.evF.forEach((v,i)=>{
    const p=make(g,'rect',{x:X(v),y:Y(s.evS[i]),width:1.5,height:1.5,fill:'#111'});
    
    
  });
  const gate=make(g,'path',{d:polyD(cGatePolyFsc,cGatePolySsc,X,Y),fill:'none',stroke:'#64649a','stroke-width':1.3});
  
  
  const lab=make(g,'text',{x:130,y:c.t+11,'font-size':16.5,style:'fill:#6a6a9a'},s.label);
  
  
  let xd='',yd='';
  for(let v=0;v<=1000;v+=100)xd+='M'+X(v)+' '+(c.t+341)+'v'+(v%500?4:7);
  for(let dec=2;dec<7.3;dec++)for(let m=1;m<10;m++){const l=dec+Math.log10(m);if(l<=7.22)yd+='M116 '+Y(l).toFixed(1)+'h'+(m==1?-7:-3);}
  const xp=make(g,'path',{d:xd,stroke:'#111','stroke-width':1,fill:'none'});
  
  
  const yp=make(g,'path',{d:yd,stroke:'#111','stroke-width':1,fill:'none'});
  
  
  cFscTicks.forEach(v=>{
    const t=make(g,'text',{x:X(v),y:c.t+365,'font-size':17,'text-anchor':'middle'},v);
    
    
  });
  cSscTicks.forEach(l=>{
    const t=document.createElementNS(NS,'text');
    t.setAttribute('transform','translate(92,'+(Y(l)-2)+') rotate(-90)');
    t.setAttribute('font-size',15);
    t.setAttribute('text-anchor','middle');
    t.textContent='10';
    make(t,'tspan',{dy:-6,'font-size':11},l);
    g.appendChild(t);
    
    
  });
}
function drawCHist(parent,key,s,c){
  const Y=n=>c.y0-n*c.k;
  const XX=l=>616+(l-2)*85.7;
  const g=make(parent,'g',{});
  
  
  const frame=make(g,'rect',{x:538,y:c.t,width:341,height:341,fill:'#fff',stroke:'#111','stroke-width':1.1});
  
  
  function area(xs,ys){
    const pts=xs.map((l,i)=>Math.min(XX(l),879).toFixed(1)+' '+Y(ys[i]).toFixed(1));
    return 'M'+Math.min(XX(xs[0]),879).toFixed(1)+' '+c.y0+'L'+pts.join('L')+'L'+Math.min(XX(xs[xs.length-1]),879).toFixed(1)+' '+c.y0+'Z';
  }
  const a=make(g,'path',{d:area(s.allX,s.allY),fill:'#7f7f80',stroke:'#0c0c0c','stroke-width':1.4});
  
  
  const b=make(g,'path',{d:area(s.gX,s.gY),fill:s.gFill,stroke:'#5a5a8c','stroke-width':.8});
  
  
  let xd='';
  cLogTicks.forEach(l=>{
    xd+='M'+XX(l)+' '+c.y0+'v7';
    for(let m=2;m<10;m++){const q=l-1+Math.log10(m);if(XX(q)>538)xd+='M'+XX(q).toFixed(1)+' '+c.y0+'v4';}
  });
  const xp=make(g,'path',{d:xd,stroke:'#111','stroke-width':1,fill:'none'});
  
  
  let yd='';
  s.yTicks.forEach(n=>{yd+='M538 '+Y(n)+'h-7';});
  for(let n=0;n*c.k<335;n+=s.minor)yd+='M538 '+Y(n).toFixed(1)+'h-3';
  const yp=make(g,'path',{d:yd,stroke:'#111','stroke-width':1,fill:'none'});
  
  
  cLogTicks.forEach(l=>{
    const t=powerLabel(g,XX(l)+3,c.t+365,l,17);
    
    
  });
  s.yTicks.forEach(n=>{
    const t=make(g,'text',{transform:'translate(514,'+Y(n)+') rotate(-90)','font-size':17,'text-anchor':'middle'},n);
    
    
  });
  const m=make(g,'path',{d:'M698 '+(c.gy-9.5)+'v19M698 '+c.gy+'H873M873 '+(c.gy-9.5)+'v19',fill:'none',stroke:'#222','stroke-width':1.3});
  
  
  if(s.box){
    const bx=make(g,'rect',{x:698,y:c.gy-38,width:94,height:19,fill:'#d9d9dd'});
    
    
  }
  const l=make(g,'text',{x:698,y:c.gy-27,'font-size':16},s.label);
  
  
}
const C=document.getElementById('panelC');
drawCScatter(C,'c-a',{bandF:caBandFsc,bandS:caBandSsc,haloF:caHaloFsc,haloS:caHaloSsc,blackF:caBlackFsc,blackS:caBlackSsc,evF:caEventFsc,evS:caEventSsc,label:'P1(91.94%)'},{t:1010,y7:1025});
drawCScatter(C,'c-b',{bandF:cbBandFsc,bandS:cbBandSsc,haloF:cbHaloFsc,haloS:cbHaloSsc,blackF:cbBlackFsc,blackS:cbBlackSsc,evF:cbEventFsc,evS:cbEventSsc,label:'P1(87.54%)'},{t:1469,y7:1484});
drawCHist(C,'c-a',{allX:cAllLog,allY:cAllCount,gX:cGatedLog,gY:cGatedCount,gFill:'#45455f',yTicks:cCountTicksA,minor:20,label:'P3(92.26%)',box:true},{t:1010,y0:1351,k:.947,gy:1184});
drawCHist(C,'c-b',{allX:dAllLog,allY:dAllCount,gX:dGatedLog,gY:dGatedCount,gFill:'#62627e',yTicks:cCountTicksB,minor:10,label:'P3(0.52%)',box:false},{t:1469,y0:1810,k:2.84,gy:1642});

(function(){
  const g=document.getElementById('panelE');
  const Y=v=>2328-v*52.17;
  const barCentres=[327,562.5];
  const title=make(g,'text',{x:444,y:1964,'font-size':32,'font-weight':'bold','text-anchor':'middle'},'miR-223');
  
  
  expressionValues.forEach((v,i)=>{
    const bar=make(g,'rect',{x:barCentres[i]-48.5,y:Y(v),width:97,height:2328-Y(v),fill:'#000'});
    
    
    const err=make(g,'path',{d:'M'+barCentres[i]+' '+Y(v)+'V'+Y(v+expressionErrors[i])+'M'+(barCentres[i]-24)+' '+Y(v+expressionErrors[i])+'h48',stroke:'#000','stroke-width':3,fill:'none'});
    
    
    const tk=make(g,'line',{x1:barCentres[i],x2:barCentres[i],y1:2328,y2:2342,stroke:'#000','stroke-width':2.5});
    
    
    const lab=make(g,'text',{x:barCentres[i],y:2362,'font-size':29,'text-anchor':'middle'},expressionCategories[i]);
    if(i==1){make(lab,'tspan',{dy:-11,'font-size':19},'+');}
    
    
  });
  const axes=make(g,'path',{d:'M207 '+Y(6)+'V2330M200 2328H680',stroke:'#000','stroke-width':3.2,fill:'none'});
  
  
  expressionTicks.forEach(v=>{
    const tk=make(g,'line',{x1:200,x2:207,y1:Y(v),y2:Y(v),stroke:'#000','stroke-width':2.5});
    
    
    const t=make(g,'text',{x:197,y:Y(v),'font-size':30,'text-anchor':'end'},v);
    
    
  });
  const yt=make(g,'text',{transform:'translate(130,2183) rotate(-90)','font-size':30,'text-anchor':'middle',textLength:374,lengthAdjust:'spacingAndGlyphs'},'Fold change of expression');
  
  
  const star=make(g,'text',{x:563,y:2226,'font-size':58,'font-weight':'bold','text-anchor':'middle'},'*');
  
  
})();

(function(){
  const g=document.getElementById('panelF');
  const X=i=>1146+i*106.2, Y=v=>2328-v*4.25;
  const axes=make(g,'path',{d:'M1094.5 '+Y(100)+'V2330M1082 2328H1729',stroke:'#000','stroke-width':3.2,fill:'none'});
  
  
  viabilityTicks.forEach(v=>{
    const tk=make(g,'line',{x1:1087,x2:1094.5,y1:Y(v),y2:Y(v),stroke:'#000','stroke-width':2.5});
    
    
    const t=make(g,'text',{x:1085,y:Y(v),'font-size':31,'text-anchor':'end'},v);
    
    
  });
  doseLabels.forEach((d,i)=>{
    const tk=make(g,'line',{x1:X(i),x2:X(i),y1:2328,y2:2342,stroke:'#000','stroke-width':2.5});
    
    
    const t=make(g,'text',{x:X(i),y:2362,'font-size':28.5,'text-anchor':'middle'},d);
    
    
  });
  const lc=make(g,'polyline',{points:viabilityCd133.map((v,i)=>X(i).toFixed(1)+','+Y(v).toFixed(1)).join(' '),fill:'none',stroke:'#000','stroke-width':4});
  
  
  const lp=make(g,'polyline',{points:viabilityPc9.map((v,i)=>X(i).toFixed(1)+','+Y(v).toFixed(1)).join(' '),fill:'none',stroke:'#000','stroke-width':3.6,'stroke-dasharray':'14 7'});
  
  
  viabilityCd133.forEach((v,i)=>{
    const m=make(g,'rect',{x:X(i)-9,y:Y(v)-9,width:18,height:18,fill:'#000'});
    
    
  });
  viabilityPc9.forEach((v,i)=>{
    const m=make(g,'circle',{cx:X(i),cy:Y(v),r:10.5,fill:'#000'});
    
    
  });
  const yt=make(g,'text',{transform:'translate(991,2123) rotate(-90)','font-size':32,'text-anchor':'middle',textLength:418,lengthAdjust:'spacingAndGlyphs'},'Cell viability (% of control)');
  
  
  const xt=make(g,'text',{x:1412,y:2414,'font-size':32,'text-anchor':'middle'},'Erlotinib (μM)');
  
  
  const l1=make(g,'path',{d:'M1619 1924H1664',stroke:'#000','stroke-width':4});
  
  
  const s1=make(g,'rect',{x:1632,y:1915,width:18,height:18,fill:'#000'});
  
  
  const t1=make(g,'text',{x:1688,y:1926,'font-size':31},'PC9/CD133');
  make(t1,'tspan',{dy:-11,'font-size':20},'+');
  
  
  const l2=make(g,'path',{d:'M1619 1975H1664',stroke:'#000','stroke-width':3.6,'stroke-dasharray':'11 6'});
  
  
  const s2=make(g,'circle',{cx:1640,cy:1975,r:10.5,fill:'#000'});
  
  
  const t2=make(g,'text',{x:1688,y:1976,'font-size':31},'PC9');
  
  
})();

// Micrograph texture (photographic illustration, not chart data)
(function(){
  let seed=12345;
  const rnd=()=>{seed=(seed*1664525+1013904223)%4294967296;return seed/4294967296;};
  const ring=(x,y,r)=>'M'+(x-r).toFixed(1)+' '+y.toFixed(1)+'a'+r+' '+r+' 0 1 0 '+2*r+' 0a'+r+' '+r+' 0 1 0 '+(-2*r)+' 0';
  const host=document.getElementById('cellsA');
  let loose='',looseDark='',dense='',spots='';
  for(let i=0;i<1000;i++){
    const x=1483+rnd()*536,y=95+rnd()*387,r=Number((2.8+rnd()*2).toFixed(1));
    loose+=ring(x,y,r);
    looseDark+=ring(x,y,r+1);
  }
  const clusters=[[1587,125,20,30,60],[1590,170,24,30,90],[1606,212,28,20,100],[1630,210,16,18,40],[1792,237,16,20,44],[1776,283,22,22,80],[1780,320,22,16,40],[1815,322,9,8,14],[1968,233,38,12,90],[2000,238,18,16,40],[1905,303,13,18,30],[1975,310,14,22,34],[1591,320,14,16,34],[1570,350,10,8,12],[1878,370,28,22,90],[1905,372,22,14,50],[1890,418,24,22,90],[1850,445,24,22,90],[1835,470,20,10,40],[1935,425,18,18,40],[1630,440,18,14,40],[1765,438,16,10,22],[1960,230,12,10,14]];
  clusters.forEach(c=>{
    for(let i=0;i<c[4];i++){
      const a=rnd()*6.283,d=Math.sqrt(rnd());
      const x=c[0]+Math.cos(a)*d*c[2],y=c[1]+Math.sin(a)*d*c[3];
      dense+=ring(x,y,3.8);
      if(i%2==0)spots+=ring(x+.5,y-.5,.9);
    }
  });
  const p0=make(host,'path',{d:looseDark,fill:'none',stroke:'#4a5058','stroke-width':.8,opacity:.5});
  
  
  const p1=make(host,'path',{d:loose,fill:'none',stroke:'#969ca2','stroke-width':.9,opacity:.7});
  
  
  const p2=make(host,'path',{d:dense,fill:'#444a52',stroke:'#6d747b','stroke-width':.8});
  
  
  const p3=make(host,'path',{d:spots,fill:'#e6e6e6'});
  
  

  const hostB=document.getElementById('cellsB');
  const singles=[[1681,622,4],[1661,655,3],[1579,697,5],[1578,710,4],[1659,791,8],[1763,821,5],[1898,810,6],[1939,798,4],[1820,881,6],[1676,878,6],[1660,885,6],[1917,533,7],[1902,527,5],[1712,540,4],[1552,775,3],[1984,880,9],[1988,862,7],[2003,895,6],[1963,880,8],[1960,895,6],[1700,745,8],[1697,760,6]];
  let cellsD='';
  singles.forEach(s=>{cellsD+=ring(s[0],s[1],s[2]);});
  const cb=make(hostB,'path',{d:cellsD,fill:'#8a8a88',stroke:'#333','stroke-width':1.6});
  
  
  let rim='';
  for(let i=0;i<42;i++){const a=i/42*6.283;rim+=ring(1757+Math.cos(a)*60,721+Math.sin(a)*60,3);}
  const rimP=make(hostB,'path',{d:rim,fill:'#a8a8a6',stroke:'#2d2d2d','stroke-width':1});
  
  
})();
</script>
</body>
</html>
